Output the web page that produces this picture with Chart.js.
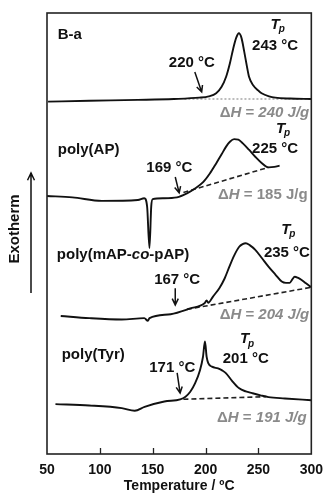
<!DOCTYPE html>
<html>
<head>
<meta charset="utf-8">
<script src="https://cdn.jsdelivr.net/npm/chart.js@4.4.1/dist/chart.umd.min.js"></script>
<style>
html,body{margin:0;padding:0;background:#fff;}
#wrap{width:331px;height:503px;position:relative;}
</style>
</head>
<body>
<div id="wrap"><canvas id="c" width="331" height="503"></canvas></div>
<script>
// ---- Data (temperature in °C, heat flow in arbitrary offset units) ----
const xTicks = [50, 100, 150, 200, 250, 300];

const baTemp = [51, 90, 136, 170, 194, 203, 210, 215, 219.5, 223, 226, 229, 231.5, 234, 236.5, 239, 241, 245, 250, 253, 260, 266, 280, 300];
const baHeat = [79.9, 80.1, 80.3, 80.5, 80.8, 81.1, 81.8, 83.2, 85.6, 88.6, 91.8, 94.4, 95.4, 94.3, 91.3, 88.0, 85.6, 83.6, 82.4, 81.8, 81.1, 80.8, 80.6, 80.5];
const baBaseTemp = [180, 300];
const baBaseHeat = [80.5, 80.5];

const apTemp = [50, 74, 102, 136, 142, 144.7, 146.9, 148.6, 150, 160, 173, 182.4, 190, 197.9, 204, 210, 215, 219.4, 223, 227, 231, 235, 241, 247, 253, 259.5, 265, 270];
const apHeat = [58.5, 58.2, 57.4, 57.6, 58.0, 56.1, 46.7, 56.2, 57.8, 58.0, 58.2, 59.1, 60.2, 61.7, 63.6, 65.9, 67.9, 69.7, 70.8, 71.4, 71.3, 70.5, 69.0, 67.4, 66.0, 65.0, 65.1, 65.4];
const apBaseTemp = [179, 259.5];
const apBaseHeat = [59.3, 65.0];

const coTemp = [63, 90, 120.7, 142, 145.4, 147, 167, 185.5, 199, 201, 202.5, 207, 213, 218, 222.5, 227, 231.8, 235, 238, 242, 247, 253, 259.5, 266, 272, 276, 279.6, 282, 284.3, 287, 290.5, 295, 300];
const coHeat = [31.3, 30.8, 30.5, 30.8, 30.2, 30.8, 31.7, 33.0, 34.2, 34.8, 34.3, 35.7, 37.6, 39.8, 42.5, 45.0, 47.0, 47.6, 47.8, 47.3, 46.3, 44.5, 42.5, 40.7, 39.1, 38.8, 38.8, 39.6, 40.2, 40.0, 39.5, 38.7, 37.8];
const coBaseTemp = [182.4, 300];
const coBaseHeat = [32.8, 37.8];

const tyTemp = [58, 90, 120.7, 133, 142.3, 161, 176, 181, 185.5, 190, 194.7, 197.5, 199.4, 201, 202.5, 206, 211.8, 216, 219.4, 225, 231.8, 238, 244, 252, 259.5, 275, 300];
const tyHeat = [11.3, 11.0, 10.4, 9.8, 10.7, 11.9, 12.4, 13.0, 14.1, 16.0, 19.0, 22.0, 25.5, 22.0, 20.6, 19.8, 19.4, 18.9, 18.3, 16.6, 14.9, 14.2, 13.8, 13.3, 12.9, 12.6, 12.2];
const tyBaseTemp = [179, 257];
const tyBaseHeat = [12.4, 13.0];

// sample names, onset and peak temperatures, enthalpies
const sampleNames = ['B-a', 'poly(AP)', 'poly(mAP-co-pAP)', 'poly(Tyr)'];
const onsetLabels = ['220 °C', '169 °C', '167 °C', '171 °C'];
const peakLabels = ['243 °C', '225 °C', '235 °C', '201 °C'];
const enthalpyValues = ['240', '185', '204', '191'];
const enthalpyItalic = [true, false, true, true];

// label anchor points in data coordinates [temp, heat]
const nameAnchors = [[60.2, 95.0], [60.2, 68.9], [59.3, 45.1], [63.9, 22.4]];
const onsetAnchors = [[187, 88.7], [165.7, 64.9], [173.1, 39.5], [168.5, 19.5]];
const arrowFrom = [[189.8, 86.6], [171.3, 62.8], [171.3, 37.6], [173.1, 18.4]];
const arrowTo = [[196.3, 82.1], [175.0, 59.2], [171.3, 33.8], [175.9, 13.8]];
const tpAnchors = [[261.5, 97.4], [266.5, 73.8], [271.5, 50.9], [232.5, 26.0]];
const peakAnchors = [[265.7, 92.5], [265.7, 69.2], [276.9, 45.6], [238, 21.6]];
const dhAnchors = [[298, 77.3], [296.5, 58.7], [298, 31.5], [295.6, 8.2]];

const pts = (xs, ys) => xs.map((x, i) => ({x: x, y: ys[i]}));

const curveStyle = {borderColor: '#111', borderWidth: 1.9, pointRadius: 0, fill: false, cubicInterpolationMode: 'monotone'};
const dashStyle = {borderColor: '#222', borderWidth: 1.6, pointRadius: 0, fill: false, borderDash: [5, 3], tension: 0};

const datasets = [
  Object.assign({label: 'B-a', data: pts(baTemp, baHeat)}, curveStyle),
  Object.assign({label: 'B-a baseline', data: pts(baBaseTemp, baBaseHeat)}, dashStyle, {borderColor: '#999', borderWidth: 1.3, borderDash: [2, 2]}),
  Object.assign({label: 'poly(AP)', data: pts(apTemp, apHeat)}, curveStyle),
  Object.assign({label: 'poly(AP) baseline', data: pts(apBaseTemp, apBaseHeat)}, dashStyle),
  Object.assign({label: 'poly(mAP-co-pAP)', data: pts(coTemp, coHeat)}, curveStyle),
  Object.assign({label: 'poly(mAP-co-pAP) baseline', data: pts(coBaseTemp, coBaseHeat)}, dashStyle),
  Object.assign({label: 'poly(Tyr)', data: pts(tyTemp, tyHeat)}, curveStyle),
  Object.assign({label: 'poly(Tyr) baseline', data: pts(tyBaseTemp, tyBaseHeat)}, dashStyle)
];

const FONT = '"Liberation Sans", Arial, sans-serif';

function drawArrow(ctx, x1, y1, x2, y2, head) {
  const a = Math.atan2(y2 - y1, x2 - x1);
  ctx.beginPath();
  ctx.moveTo(x1, y1);
  ctx.lineTo(x2, y2);
  ctx.moveTo(x2 - head * Math.cos(a - 0.45), y2 - head * Math.sin(a - 0.45));
  ctx.lineTo(x2, y2);
  ctx.lineTo(x2 - head * Math.cos(a + 0.45), y2 - head * Math.sin(a + 0.45));
  ctx.stroke();
}

function drawParts(ctx, parts, xRight, y) {
  let total = 0;
  parts.forEach(p => { ctx.font = p.f; total += ctx.measureText(p.t).width; });
  let x = xRight - total;
  parts.forEach(p => { ctx.font = p.f; ctx.fillText(p.t, x, y); x += ctx.measureText(p.t).width; });
}

const decor = {
  id: 'decor',
  afterDatasetsDraw(chart) {
    const ctx = chart.ctx;
    const xs = chart.scales.x, ys = chart.scales.y;
    const a = chart.chartArea;
    const X = v => xs.getPixelForValue(v), Y = v => ys.getPixelForValue(v);
    ctx.save();
    // frame
    ctx.strokeStyle = '#222';
    ctx.lineWidth = 1.6;
    ctx.strokeRect(a.left, a.top, a.right - a.left, a.bottom - a.top);
    // inward x ticks
    ctx.lineWidth = 1.3;
    xTicks.forEach(t => {
      if (t === 50 || t === 300) return;
      const px = Math.round(X(t)) + 0.5;
      ctx.beginPath(); ctx.moveTo(px, a.bottom); ctx.lineTo(px, a.bottom - 6); ctx.stroke();
    });
    ctx.fillStyle = '#111';
    ctx.textBaseline = 'middle';
    for (let i = 0; i < 4; i++) {
      // sample name
      ctx.textAlign = 'left';
      if (i === 2) {
        const parts = [
          {t: 'poly(mAP-', f: 'bold 15px ' + FONT},
          {t: 'co', f: 'italic bold 15px ' + FONT},
          {t: '-pAP)', f: 'bold 15px ' + FONT}
        ];
        let x = X(nameAnchors[i][0]);
        parts.forEach(p => { ctx.font = p.f; ctx.fillText(p.t, x, Y(nameAnchors[i][1])); x += ctx.measureText(p.t).width; });
      } else {
        ctx.font = 'bold 15px ' + FONT;
        ctx.fillText(sampleNames[i], X(nameAnchors[i][0]), Y(nameAnchors[i][1]));
      }
      // onset
      ctx.textAlign = 'center';
      ctx.font = 'bold 15px ' + FONT;
      ctx.fillText(onsetLabels[i], X(onsetAnchors[i][0]), Y(onsetAnchors[i][1]));
      ctx.strokeStyle = '#111';
      ctx.lineWidth = 1.5;
      drawArrow(ctx, X(arrowFrom[i][0]), Y(arrowFrom[i][1]), X(arrowTo[i][0]), Y(arrowTo[i][1]), 7);
      // Tp
      ctx.textAlign = 'left';
      ctx.font = 'italic bold 15px ' + FONT;
      const tx = X(tpAnchors[i][0]), ty = Y(tpAnchors[i][1]);
      ctx.fillText('T', tx, ty);
      const tw = ctx.measureText('T').width;
      ctx.font = 'italic bold 10px ' + FONT;
      ctx.fillText('p', tx + tw - 1, ty + 5);
      // peak temperature
      ctx.textAlign = 'center';
      ctx.font = 'bold 15px ' + FONT;
      ctx.fillText(peakLabels[i], X(peakAnchors[i][0]), Y(peakAnchors[i][1]));
      // enthalpy
      ctx.fillStyle = '#8a8a8a';
      ctx.textAlign = 'left';
      const numFont = (enthalpyItalic[i] ? 'italic ' : '') + 'bold 15px ' + FONT;
      drawParts(ctx, [
        {t: 'Δ', f: 'bold 15px ' + FONT},
        {t: 'H', f: 'italic bold 15px ' + FONT},
        {t: ' = ', f: 'bold 15px ' + FONT},
        {t: enthalpyValues[i], f: numFont},
        {t: ' J/g', f: numFont}
      ], X(dhAnchors[i][0]), Y(dhAnchors[i][1]));
      ctx.fillStyle = '#111';
    }
    // Exotherm label and arrow
    ctx.save();
    ctx.translate(15, 229);
    ctx.rotate(-Math.PI / 2);
    ctx.textAlign = 'center';
    ctx.font = 'bold 15px ' + FONT;
    ctx.fillText('Exotherm', 0, 0);
    ctx.restore();
    ctx.strokeStyle = '#111';
    ctx.lineWidth = 1.5;
    drawArrow(ctx, 31, 293, 31, 173, 8);
    ctx.restore();
  }
};

new Chart(document.getElementById('c'), {
  type: 'line',
  data: {datasets: datasets},
  plugins: [decor],
  options: {
    responsive: false,
    animation: false,
    devicePixelRatio: 1,
    layout: {padding: {left: 47, right: 14, top: 13, bottom: 0}},
    plugins: {legend: {display: false}, tooltip: {enabled: false}},
    scales: {
      x: {
        type: 'linear', min: 50, max: 300,
        afterBuildTicks: s => { s.ticks = xTicks.map(v => ({value: v})); },
        afterFit: s => { s.height = 49; },
        grid: {display: false, drawTicks: false},
        border: {display: false},
        ticks: {font: {family: FONT, size: 14, weight: 'bold'}, color: '#111', padding: 8, maxRotation: 0},
        title: {display: true, text: 'Temperature / ºC', font: {family: FONT, size: 14, weight: 'bold'}, color: '#111', padding: {top: 0, bottom: 8}}
      },
      y: {type: 'linear', min: 0, max: 100, display: false}
    }
  }
});
</script>
</body>
</html>
